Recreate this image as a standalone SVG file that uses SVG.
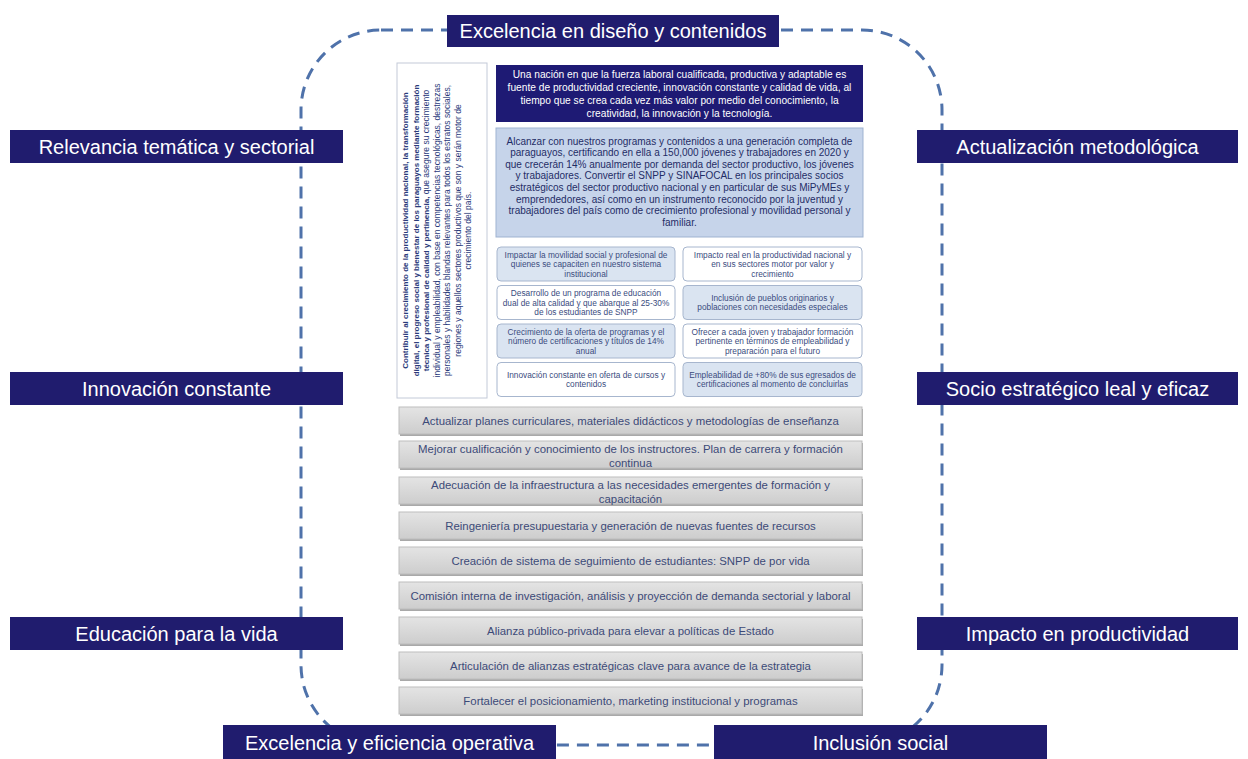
<svg xmlns="http://www.w3.org/2000/svg" width="1248" height="759" viewBox="0 0 1248 759">
<defs>
<linearGradient id="gBar" x1="0" y1="0" x2="0" y2="1">
<stop offset="0" stop-color="#E4E4E4"/>
<stop offset="1" stop-color="#CDCDCD"/>
</linearGradient>
</defs>
<style>
text{font-family:"Liberation Sans",Arial,sans-serif}
.lab rect{fill:#201C6E}
.lab text{fill:#FFFFFF;font-size:20px;text-anchor:middle}
.vis text{fill:#FFFFFF;font-size:10.2px;text-anchor:middle}
.mis text{fill:#1F2D66;font-size:10px;text-anchor:middle}
.sb rect{stroke:#A7B6CE;stroke-width:1}
.sb .b{fill:#DAE4F1}
.sb .w{fill:#FFFFFF}
.sb text{fill:#3A4C80;font-size:8.3px;text-anchor:middle}
.bar rect.s{fill:#A9A9A9}
.bar rect.f{fill:url(#gBar);stroke:#BDBDBD;stroke-width:1}
.bar text{fill:#3C4A78;font-size:11.4px;text-anchor:middle}
.vt{fill:#2A3A7A;font-size:8.5px;text-anchor:middle}
.bd{font-weight:bold;font-size:8px}
</style>
<rect width="1248" height="759" fill="#FFFFFF"/>

<g id="connectors">
<rect x="301" y="30" width="641" height="715" rx="80" ry="80" fill="none" stroke="#4F72AA" stroke-width="3" stroke-dasharray="12 8"/>
</g>

<g id="purpose">
<rect x="397" y="63" width="90" height="335" fill="#FFFFFF" stroke="#C3CAD8" stroke-width="1"/>
<text class="vt bd" transform="translate(408,230.5) rotate(-90)">Contribuir al crecimiento de la productividad nacional, la transformación</text>
<text class="vt bd" transform="translate(418.5,230.5) rotate(-90)">digital, el progreso social y bienestar de los paraguayos mediante formación</text>
<text class="vt" transform="translate(429,230.5) rotate(-90)"><tspan class="bd">técnica y profesional de calidad y pertinencia,</tspan> que asegure su crecimiento</text>
<text class="vt" transform="translate(439.5,230.5) rotate(-90)">individual y empleabilidad, con base en competencias tecnológicas, destrezas</text>
<text class="vt" transform="translate(450,230.5) rotate(-90)">personales y habilidades blandas relevantes para todos los estratos sociales,</text>
<text class="vt" transform="translate(460.5,230.5) rotate(-90)">regiones y aquellos sectores productivos que son y serán motor de</text>
<text class="vt" transform="translate(471,230.5) rotate(-90)">crecimiento del país.</text>
</g>

<g id="vision" class="vis">
<rect x="496" y="65" width="367" height="57" fill="#1E1A74"/>
<text x="679.5" y="77.5">Una nación en que la fuerza laboral cualificada, productiva y adaptable es</text>
<text x="679.5" y="90.5">fuente de productividad creciente, innovación constante y calidad de vida, al</text>
<text x="679.5" y="103.5">tiempo que se crea cada vez más valor por medio del conocimiento, la</text>
<text x="679.5" y="116.5">creatividad, la innovación y la tecnología.</text>
</g>

<g id="mission" class="mis">
<rect x="496" y="128" width="367" height="109" fill="#C6D4EA" stroke="#9FB3D1" stroke-width="1"/>
<text x="679.5" y="144.5">Alcanzar con nuestros programas y contenidos a una generación completa de</text>
<text x="679.5" y="156.1">paraguayos, certificando en ella a 150,000 jóvenes y trabajadores en 2020 y</text>
<text x="679.5" y="167.7">que crecerán 14% anualmente por demanda del sector productivo, los jóvenes</text>
<text x="679.5" y="179.3">y trabajadores. Convertir el SNPP y SINAFOCAL en los principales socios</text>
<text x="679.5" y="190.9">estratégicos del sector productivo nacional y en particular de sus MiPyMEs y</text>
<text x="679.5" y="202.5">emprendedores, así como en un instrumento reconocido por la juventud y</text>
<text x="679.5" y="214.1">trabajadores del país como de crecimiento profesional y movilidad personal y</text>
<text x="679.5" y="225.7">familiar.</text>
</g>

<g id="obj1" class="sb">
<rect class="b" x="497" y="247" width="178" height="34" rx="4"/>
<text x="586" y="257.5">Impactar la movilidad social y profesional de</text>
<text x="586" y="267">quienes se capaciten en nuestro sistema</text>
<text x="586" y="276.5">institucional</text>
</g>
<g id="obj2" class="sb">
<rect class="w" x="683" y="247" width="179" height="34" rx="4"/>
<text x="772.5" y="257.5">Impacto real en la productividad nacional y</text>
<text x="772.5" y="267">en sus sectores motor por valor y</text>
<text x="772.5" y="276.5">crecimiento</text>
</g>
<g id="obj3" class="sb">
<rect class="w" x="497" y="285.5" width="178" height="34" rx="4"/>
<text x="586" y="296">Desarrollo de un programa de educación</text>
<text x="586" y="305.5">dual de alta calidad y que abarque al 25-30%</text>
<text x="586" y="315">de los estudiantes de SNPP</text>
</g>
<g id="obj4" class="sb">
<rect class="b" x="683" y="285.5" width="179" height="34" rx="4"/>
<text x="772.5" y="300.8">Inclusión de pueblos originarios y</text>
<text x="772.5" y="310.3">poblaciones con necesidades especiales</text>
</g>
<g id="obj5" class="sb">
<rect class="b" x="497" y="324" width="178" height="34" rx="4"/>
<text x="586" y="334.5">Crecimiento de la oferta de programas y el</text>
<text x="586" y="344">número de certificaciones y títulos de 14%</text>
<text x="586" y="353.5">anual</text>
</g>
<g id="obj6" class="sb">
<rect class="w" x="683" y="324" width="179" height="34" rx="4"/>
<text x="772.5" y="334.5">Ofrecer a cada joven y trabajador formación</text>
<text x="772.5" y="344">pertinente en términos de empleabilidad y</text>
<text x="772.5" y="353.5">preparación para el futuro</text>
</g>
<g id="obj7" class="sb">
<rect class="w" x="497" y="362.5" width="178" height="34" rx="4"/>
<text x="586" y="377.8">Innovación constante en oferta de cursos y</text>
<text x="586" y="387.3">contenidos</text>
</g>
<g id="obj8" class="sb">
<rect class="b" x="683" y="362.5" width="179" height="34" rx="4"/>
<text x="772.5" y="377.8">Empleabilidad de +80% de sus egresados de</text>
<text x="772.5" y="387.3">certificaciones al momento de concluirlas</text>
</g>

<g id="act1" class="bar">
<rect class="s" x="400" y="409" width="463" height="27"/>
<rect class="f" x="399" y="407" width="463" height="27"/>
<text x="630.5" y="424.5">Actualizar planes curriculares, materiales didácticos y metodologías de enseñanza</text>
</g>
<g id="act2" class="bar">
<rect class="s" x="400" y="443" width="463" height="27"/>
<rect class="f" x="399" y="441" width="463" height="27"/>
<text x="630.5" y="452.5">Mejorar cualificación y conocimiento de los instructores. Plan de carrera y formación</text>
<text x="630.5" y="466.5">continua</text>
</g>
<g id="act3" class="bar">
<rect class="s" x="400" y="479" width="463" height="27"/>
<rect class="f" x="399" y="477" width="463" height="27"/>
<text x="630.5" y="488.8">Adecuación de la infraestructura a las necesidades emergentes de formación y</text>
<text x="630.5" y="502.5">capacitación</text>
</g>
<g id="act4" class="bar">
<rect class="s" x="400" y="514" width="463" height="27"/>
<rect class="f" x="399" y="512" width="463" height="27"/>
<text x="630.5" y="529.5">Reingeniería presupuestaria y generación de nuevas fuentes de recursos</text>
</g>
<g id="act5" class="bar">
<rect class="s" x="400" y="549" width="463" height="27"/>
<rect class="f" x="399" y="547" width="463" height="27"/>
<text x="630.5" y="564.5">Creación de sistema de seguimiento de estudiantes: SNPP de por vida</text>
</g>
<g id="act6" class="bar">
<rect class="s" x="400" y="584" width="463" height="27"/>
<rect class="f" x="399" y="582" width="463" height="27"/>
<text x="630.5" y="599.5">Comisión interna de investigación, análisis y proyección de demanda sectorial y laboral</text>
</g>
<g id="act7" class="bar">
<rect class="s" x="400" y="619" width="463" height="27"/>
<rect class="f" x="399" y="617" width="463" height="27"/>
<text x="630.5" y="634.5">Alianza público-privada para elevar a políticas de Estado</text>
</g>
<g id="act8" class="bar">
<rect class="s" x="400" y="654" width="463" height="27"/>
<rect class="f" x="399" y="652" width="463" height="27"/>
<text x="630.5" y="669.5">Articulación de alianzas estratégicas clave para avance de la estrategia</text>
</g>
<g id="act9" class="bar">
<rect class="s" x="400" y="689" width="463" height="27"/>
<rect class="f" x="399" y="687" width="463" height="27"/>
<text x="630.5" y="704.5">Fortalecer el posicionamiento, marketing institucional y programas</text>
</g>

<g id="lab-top" class="lab"><rect x="447" y="15" width="332" height="32"/><text x="613" y="38">Excelencia en diseño y contenidos</text></g>
<g id="lab-relevancia" class="lab"><rect x="10" y="130" width="333" height="33"/><text x="176.5" y="153.5">Relevancia temática y sectorial</text></g>
<g id="lab-actualizacion" class="lab"><rect x="917" y="130" width="321" height="33"/><text x="1077.5" y="153.5">Actualización metodológica</text></g>
<g id="lab-innovacion" class="lab"><rect x="10" y="372" width="333" height="33"/><text x="176.5" y="395.5">Innovación constante</text></g>
<g id="lab-socio" class="lab"><rect x="917" y="372" width="321" height="33"/><text x="1077.5" y="395.5">Socio estratégico leal y eficaz</text></g>
<g id="lab-educacion" class="lab"><rect x="10" y="617" width="333" height="33"/><text x="176.5" y="640.5">Educación para la vida</text></g>
<g id="lab-impacto" class="lab"><rect x="917" y="617" width="321" height="33"/><text x="1077.5" y="640.5">Impacto en productividad</text></g>
<g id="lab-operativa" class="lab"><rect x="223" y="725" width="333" height="36"/><text x="389.5" y="750">Excelencia y eficiencia operativa</text></g>
<g id="lab-inclusion" class="lab"><rect x="714" y="725" width="333" height="36"/><text x="880.5" y="750">Inclusión social</text></g>
</svg>
